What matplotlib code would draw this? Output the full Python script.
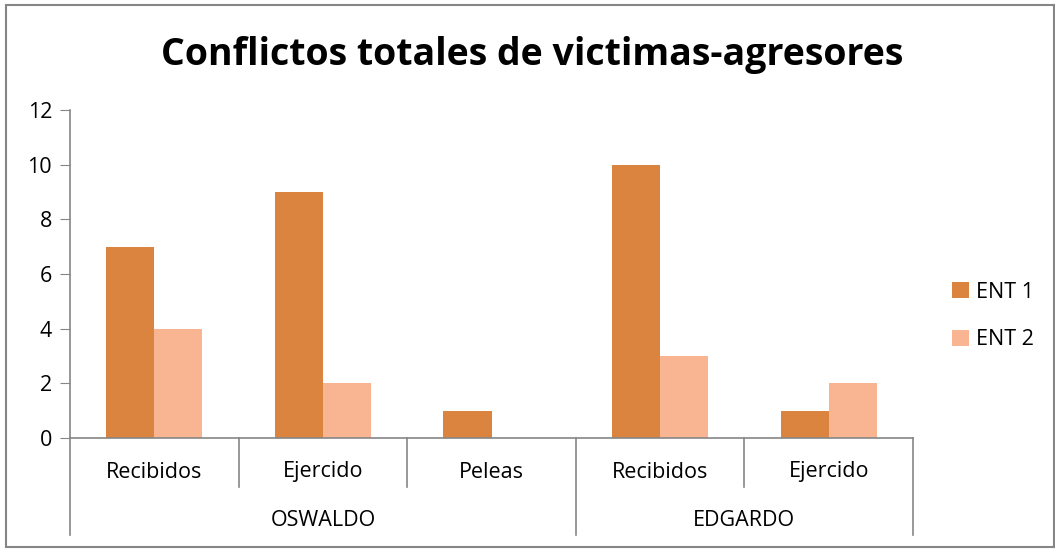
import matplotlib.pyplot as plt
from matplotlib.patches import Rectangle

categories = ['Recibidos', 'Ejercido', 'Peleas', 'Recibidos', 'Ejercido']
groups = ['OSWALDO', 'EDGARDO']
group_sizes = [3, 2]
ent1 = [7, 9, 1, 10, 1]
ent2 = [4, 2, 0, 3, 2]
series_names = ['ENT 1', 'ENT 2']

c1 = '#DB843F'
c2 = '#F9B591'
grey = '#868686'

W, H = 1055, 549
fig = plt.figure(figsize=(W / 100, H / 100), dpi=100)
plt.rcParams['font.family'] = ['Open Sans', 'DejaVu Sans']
fs = 15.5

# plot area in pixels: x 70..913, y 110..438
ax = fig.add_axes([70 / W, (H - 438) / H, (913 - 70) / W, (438 - 110) / H])

x = list(range(len(categories)))
bw = 0.285
ax.bar([i + 0.5 - bw / 2 for i in x], ent1, bw, color=c1, label=series_names[0])
ax.bar([i + 0.5 + bw / 2 for i in x], ent2, bw, color=c2, label=series_names[1])

ax.set_xlim(0, len(categories))
ax.set_ylim(0, 12)
ax.set_yticks(range(0, 13, 2))
ax.tick_params(axis='y', length=7, color=grey, labelsize=fs, pad=6)
ax.set_xticks([])
for s in ['top', 'right']:
    ax.spines[s].set_visible(False)
for s in ['left', 'bottom']:
    ax.spines[s].set_color(grey)
    ax.spines[s].set_linewidth(1.2)

# two-level category axis: item names, then person names
tr = ax.get_xaxis_transform()
h_ax = 438 - 110
inner = -49 / h_ax
outer = -97 / h_ax
for i, name in enumerate(categories):
    ax.text(i + 0.5, -34 / h_ax, name, transform=tr, ha='center', va='center', fontsize=fs)

bounds = [0]
for n in group_sizes:
    bounds.append(bounds[-1] + n)
for b in range(len(categories) + 1):
    yb = outer if b in bounds else inner
    ax.plot([b, b], [0, yb], transform=tr, color=grey, lw=1.2, clip_on=False)
for g, name in enumerate(groups):
    mid = (bounds[g] + bounds[g + 1]) / 2
    ax.text(mid, -82 / h_ax, name, transform=tr, ha='center', va='center', fontsize=fs)

fig.text(532 / W, 1 - 55 / H, 'Conflictos totales de victimas-agresores',
         ha='center', va='center', fontsize=27, fontweight='bold')

fig.legend(loc='center left', bbox_to_anchor=(933 / W, 1 - 316 / H), frameon=False,
           fontsize=fs, handlelength=0.75, handleheight=0.75, labelspacing=1.25,
           handletextpad=0.35)

fig.patches.append(Rectangle((5.5 / W, 2.5 / H), (1054 - 5.5) / W, (544 - 2.5) / H,
                             transform=fig.transFigure, fill=False, edgecolor=grey, lw=1.5))

fig.savefig('out.png', dpi=100)
